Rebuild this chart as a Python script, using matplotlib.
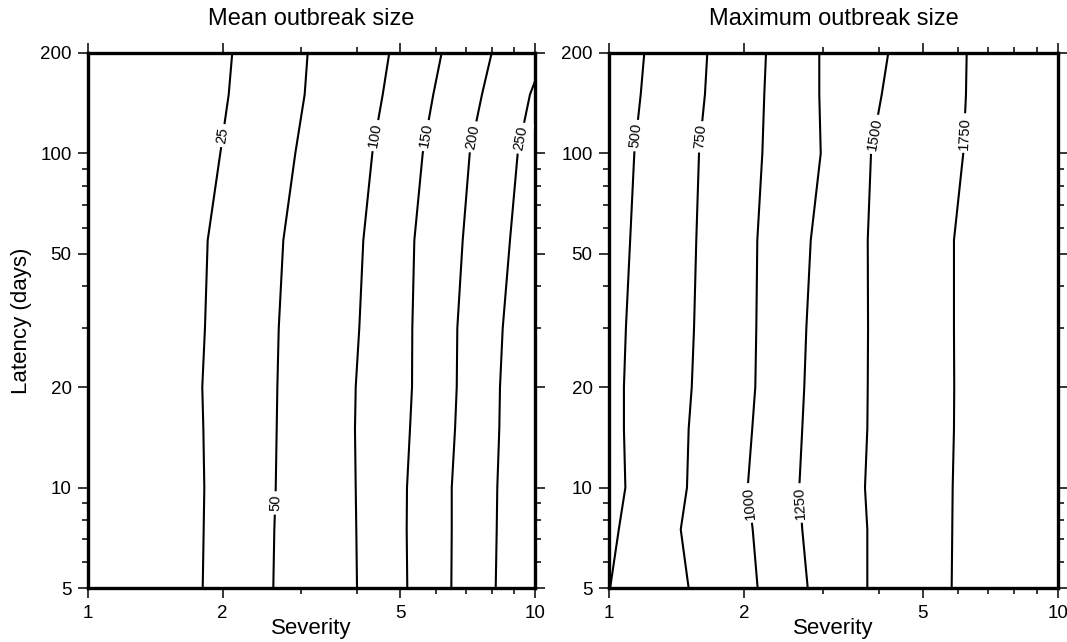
import numpy as np
import matplotlib.pyplot as plt
from matplotlib.ticker import NullFormatter

plt.rcParams['font.family'] = ['Liberation Sans', 'DejaVu Sans']

# latency rows (days) at which the contour crossings were read, bottom -> top
latency = [5, 7.5, 10, 15, 20, 30, 55, 100, 150, 200]

# mean outbreak size: severity where each contour crosses the latency rows
mean_levels = [25, 50, 100, 150, 200, 250]
mean_sev = [
    [1.804, 1.813, 1.819, 1.810, 1.800, 1.825, 1.851, 1.975, 2.063, 2.101],
    [2.596, 2.610, 2.629, 2.642, 2.651, 2.670, 2.734, 2.908, 3.052, 3.100],
    [3.998, 3.983, 3.971, 3.956, 3.971, 4.045, 4.130, 4.326, 4.565, 4.722],
    [5.181, 5.165, 5.173, 5.254, 5.309, 5.317, 5.373, 5.610, 5.925, 6.187],
    [6.502, 6.516, 6.516, 6.628, 6.686, 6.706, 6.895, 7.149, 7.616, 8.008],
    [8.174, 8.217, 8.241, 8.327, 8.357, 8.475, 8.799, 9.156, 9.755, 10.59],
]
mean_label_lat = [113, 9, 113, 113, 112, 111]

# maximum outbreak size
max_levels = [500, 750, 1000, 1250, 1500, 1750]
max_sev = [
    [1.004, 1.050, 1.086, 1.078, 1.078, 1.089, 1.113, 1.137, 1.175, 1.197],
    [1.503, 1.443, 1.490, 1.503, 1.527, 1.545, 1.563, 1.585, 1.634, 1.654],
    [2.142, 2.088, 2.035, 2.083, 2.116, 2.127, 2.138, 2.194, 2.216, 2.236],
    [2.770, 2.693, 2.652, 2.693, 2.721, 2.750, 2.813, 2.961, 2.939, 2.939],
    [3.761, 3.761, 3.716, 3.761, 3.769, 3.775, 3.769, 3.833, 4.050, 4.189],
    [5.799, 5.817, 5.829, 5.868, 5.876, 5.868, 5.868, 6.155, 6.241, 6.264],
]
max_label_lat = [113, 112, 9, 9, 114, 115]

sev_major = [1, 2, 5, 10]
sev_minor = [3, 4, 6, 7, 8, 9]
lat_major = [5, 10, 20, 50, 100, 200]
lat_minor = [6, 7, 8, 9, 30, 40, 60, 70, 80, 90]

W, H = 1067, 642
fig = plt.figure(figsize=(W / 100, H / 100), dpi=100)
bot = 1 - 588.3 / H
hgt = (588.3 - 52.7) / H
ax1 = fig.add_axes([88.3 / W, bot, (534.8 - 88.3) / W, hgt])
ax2 = fig.add_axes([609.3 / W, bot, (1057.8 - 609.3) / W, hgt])


def setup(ax, title):
    ax.set_xscale('log')
    ax.set_yscale('log')
    ax.set_xlim(1, 10)
    ax.set_ylim(5, 200)
    ax.set_xticks(sev_major, labels=[str(v) for v in sev_major])
    ax.set_xticks(sev_minor, minor=True)
    ax.set_yticks(lat_major, labels=[str(v) for v in lat_major])
    ax.set_yticks(lat_minor, minor=True)
    ax.xaxis.set_minor_formatter(NullFormatter())
    ax.yaxis.set_minor_formatter(NullFormatter())
    ax.tick_params(which='both', direction='out', top=True, right=True,
                   width=1.1, labelsize=13.5)
    ax.tick_params(which='major', length=7)
    ax.tick_params(which='minor', length=4)
    ax.tick_params(axis='x', which='major', pad=5)
    ax.tick_params(axis='y', which='major', pad=5)
    for s in ax.spines.values():
        s.set_linewidth(2.4)
    ax.set_title(title, fontsize=17, pad=20)
    ax.set_xlabel('Severity', fontsize=16, labelpad=-3)


def draw_contours(ax, levels, sevs, label_lats):
    for lev, sev, llat in zip(levels, sevs, label_lats):
        ax.plot(sev, latency, color='black', lw=1.5, solid_joinstyle='miter')
        # label position on the line, in log space
        lx = 10 ** np.interp(np.log10(llat), np.log10(latency), np.log10(sev))
        # local direction of the line in screen space
        lo, hi = llat / 1.15, llat * 1.15
        x0 = 10 ** np.interp(np.log10(lo), np.log10(latency), np.log10(sev))
        x1 = 10 ** np.interp(np.log10(hi), np.log10(latency), np.log10(sev))
        p0 = ax.transData.transform((x0, lo))
        p1 = ax.transData.transform((x1, hi))
        ang = np.degrees(np.arctan2(p1[1] - p0[1], p1[0] - p0[0]))
        ax.text(lx, llat, str(lev), rotation=ang, rotation_mode='anchor',
                ha='center', va='center', fontsize=10.5,
                bbox=dict(fc='white', ec='none', pad=2.5))


setup(ax1, 'Mean outbreak size')
setup(ax2, 'Maximum outbreak size')
ax1.set_ylabel('Latency (days)', fontsize=16, labelpad=6)

draw_contours(ax1, mean_levels, mean_sev, mean_label_lat)
draw_contours(ax2, max_levels, max_sev, max_label_lat)

fig.savefig('out.png', dpi=100)
